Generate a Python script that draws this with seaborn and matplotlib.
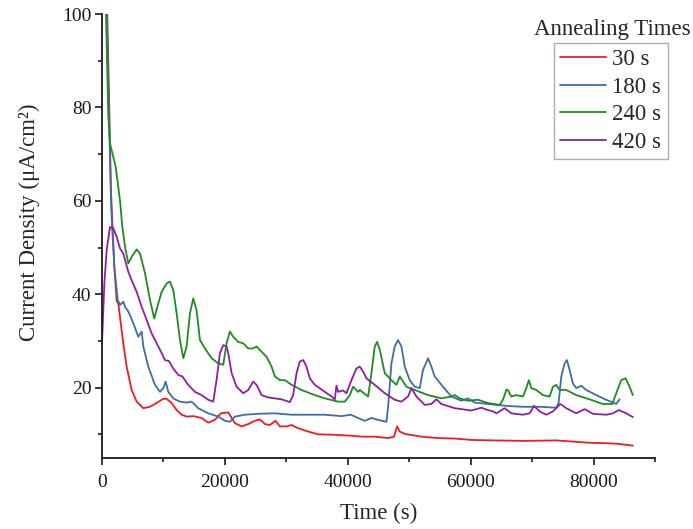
import numpy as np
import pandas as pd
import matplotlib
matplotlib.use("Agg")
import matplotlib.pyplot as plt
import seaborn as sns
from matplotlib.ticker import MultipleLocator
from matplotlib.lines import Line2D

# ---------------- data ----------------
series_names = ["30 s", "180 s", "240 s", "420 s"]
series_colors = ["#f01c1c", "#3e6da6", "#1e8c1e", "#8e1e9e"]

t_30 = [700, 860, 1460, 2000, 2390, 2650, 3460, 4010, 4820, 5640, 6710, 7800, 8610, 9960,
        10510, 11320, 12140, 12950, 13760, 14840, 16200, 17280, 18360, 19340, 20530, 21610,
        22700, 23780, 24860, 25680, 26490, 27300, 28220, 28930, 30010, 30830, 31900, 33530,
        35150, 37860, 40570, 42470, 44360, 46530, 47500, 47990, 48430, 49240, 51950, 54650,
        57360, 60070, 63590, 68470, 73890, 79300, 82010, 83640, 86340]
j_30 = [110, 100, 62, 46, 38.5, 38, 29.5, 24.5, 19.5, 17, 15.6, 15.9, 16.5, 17.6,
        17.6, 16.7, 15.2, 14.2, 13.8, 13.9, 13.5, 12.5, 13.1, 14.5, 14.7, 12.4,
        11.7, 12.2, 12.9, 13.2, 12.2, 12.0, 12.9, 11.7, 11.7, 12.0, 11.3, 10.6,
        10.0, 9.9, 9.7, 9.5, 9.5, 9.2, 9.5, 11.7, 10.6, 10.1, 9.5, 9.2,
        9.1, 8.8, 8.7, 8.6, 8.7, 8.2, 8.1, 8.0, 7.6]

t_180 = [600, 760, 1460, 1570, 2000, 2550, 2930, 3470, 3740, 4280, 5090, 5900, 6450, 6720,
         7530, 8610, 9430, 9970, 10350, 10780, 11590, 12680, 13760, 14570, 15650, 17280,
         18900, 19990, 20800, 21610, 23240, 25400, 28110, 30830, 33530, 36240, 38950,
         40460, 41650, 42740, 43820, 44900, 46260, 46530, 47070, 47610, 48150, 48700,
         49240, 50050, 50860, 51680, 52210, 53030, 53570, 54110, 55200, 56820, 58450,
         59530, 60610, 62770, 65760, 68460, 71180, 73890, 74260, 74700, 75240, 75610,
         76050, 76590, 77130, 77950, 78760, 80390, 82010, 83640, 84180]
j_180 = [110, 100, 60, 56.6, 45.9, 38.8, 37.7, 38.4, 37.3, 36.3, 33.8, 30.9, 32.0, 28.8,
         24.5, 20.6, 19.1, 19.9, 21.3, 19.1, 17.7, 17.0, 16.8, 17.0, 15.6, 14.5,
         13.8, 12.9, 12.7, 13.8, 14.2, 14.4, 14.5, 14.2, 14.2, 14.2, 13.9,
         14.2, 13.5, 12.9, 13.5, 13.1, 12.7, 15.9, 25.2, 28.8, 30.2, 28.8,
         24.5, 21.6, 20.2, 19.9, 23.8, 26.3, 24.5, 22.4, 20.6, 18.1, 17.2,
         17.7, 16.8, 16.5, 16.1, 15.9, 15.9, 15.7, 16.7, 22.4, 25.2, 25.9,
         23.8, 20.9, 19.9, 20.4, 19.5, 18.4, 17.4, 16.5, 17.5]

t_240 = [500, 650, 1030, 1300, 2220, 2930, 3310, 3740, 4280, 4820, 5640, 6180, 6990, 7800,
         8500, 9150, 9700, 10510, 11050, 11590, 12140, 12680, 13220, 13760, 14300, 14840,
         15380, 15930, 16740, 17820, 18900, 19720, 20260, 20800, 21340, 22150, 22970,
         23780, 24590, 25130, 25950, 26760, 27580, 28110, 28930, 29740, 30830, 32450,
         34610, 36240, 38400, 39490, 40300, 40840, 41650, 41930, 43280, 43820, 44360,
         44740, 45180, 45990, 47070, 47880, 48430, 48970, 49510, 50860, 53030, 55200,
         56820, 57360, 58180, 59530, 61150, 62770, 64680, 65210, 65760, 66020, 66570,
         67380, 68460, 68900, 69430, 69830, 70640, 71710, 72800, 73340, 73890, 74420,
         75510, 77130, 79300, 81460, 82990, 83640, 84450, 85150, 85800, 86340]
j_240 = [110, 100, 78, 72.3, 67.3, 60, 54.4, 50.2, 46.6, 48, 49.6, 48.7, 44.5, 38.8,
         34.8, 38, 40.5, 42.3, 42.7, 40.9, 35.9, 30.2, 26.3, 28.8, 35.9, 39.1,
         36.6, 30.2, 28.4, 26.3, 25.2, 24.9, 29.5, 32.0, 30.9, 29.8, 29.5,
         28.4, 28.4, 28.8, 27.7, 26.6, 24.5, 22.4, 21.6, 21.6, 20.6, 19.5,
         18.4, 17.7, 17.0, 17.0, 18.4, 20.2, 19.1, 19.5, 18.1, 23.1, 28.8,
         29.8, 28.1, 23.1, 21.6, 20.6, 22.4, 21.3, 20.2, 19.5, 18.4, 17.7,
         18.1, 18.4, 17.7, 17.2, 17.4, 16.7, 16.3, 17.4, 19.5, 19.5, 18.1,
         18.4, 18.1, 19.5, 21.6, 19.9, 19.5, 18.4, 18.1, 20.2, 20.6, 19.5,
         19.5, 18.4, 17.5, 16.5, 16.5, 18.8, 21.6, 22.0, 20.2, 18.4]

t_420 = [0, 60, 380, 760, 1300, 1840, 2390, 2930, 3470, 4280, 4820, 5640, 6450, 7260, 8080,
         8890, 9700, 10240, 10890, 11590, 12410, 13060, 14030, 15110, 16200, 17280, 18090,
         18630, 19180, 19720, 20260, 20530, 21080, 21890, 22970, 23780, 24590, 25130,
         25950, 27030, 28110, 29200, 30550, 31090, 31640, 32180, 32720, 33260, 33800,
         34610, 36240, 37320, 37860, 38130, 38400, 39210, 39760, 40570, 41380, 41930,
         42470, 43010, 44360, 45990, 47610, 48700, 49780, 50330, 51140, 52490, 53570,
         54380, 55200, 57360, 60070, 61700, 62770, 63590, 64140, 65490, 66570, 68460,
         69550, 70260, 71180, 72260, 73340, 74540, 75510, 77130, 78490, 79840, 82010,
         83100, 84070, 85260, 86340]
j_420 = [29.8, 31.6, 42.3, 49.5, 54.4, 54.1, 52.3, 49.8, 48.7, 44.8, 43.0, 40.5, 37.3, 34.5, 31.6,
         29.5, 27.4, 25.9, 25.7, 24.1, 22.7, 22.4, 20.6, 19.1, 18.4, 17.4, 17.0,
         21.6, 27.4, 29.1, 28.8, 27.4, 23.1, 20.2, 18.8, 19.5, 21.3, 20.6,
         18.4, 17.9, 17.7, 17.5, 16.9, 18.4, 23.1, 25.6, 25.9, 24.5, 22.0,
         20.6, 19.1, 18.1, 17.5, 20.4, 19.1, 19.4, 18.8, 21.6, 24.1, 24.5,
         23.4, 22.0, 20.6, 18.8, 17.4, 17.0, 18.1, 19.9, 18.1, 16.3, 16.5,
         17.5, 16.5, 15.6, 15.1, 15.7, 15.2, 14.9, 14.5, 15.6, 14.5, 14.2,
         14.5, 16.1, 14.9, 14.2, 14.9, 16.5, 15.6, 14.5, 15.4, 14.4, 14.2,
         14.5, 15.2, 14.5, 13.7]

x_ticks = [0, 20000, 40000, 60000, 80000]
y_ticks = [20, 40, 60, 80, 100]

# ---------------- build long-form table ----------------
frames = []
for name, t, j in zip(series_names, [t_30, t_180, t_240, t_420], [j_30, j_180, j_240, j_420]):
    frames.append(pd.DataFrame({"Time": t, "J": j, "Annealing": name}))
df = pd.concat(frames, ignore_index=True)

# ---------------- styling ----------------
sns.set_theme(style="ticks")
plt.rcParams["font.family"] = ["Liberation Serif", "DejaVu Serif"]
plt.rcParams["axes.linewidth"] = 1.3

fig = plt.figure(figsize=(6.93, 5.29), dpi=100)
ax = fig.add_axes([0.1472, 0.1348, 0.7985, 0.8387])

sns.lineplot(data=df, x="Time", y="J", hue="Annealing", hue_order=series_names,
             palette=series_colors, estimator=None, sort=False, linewidth=1.3,
             ax=ax, legend=False)

ax.set_xlim(0, 90000)
ax.set_ylim(5, 100)
ax.set_xticks(x_ticks)
ax.set_yticks(y_ticks)
ax.xaxis.set_minor_locator(MultipleLocator(10000))
ax.yaxis.set_minor_locator(MultipleLocator(10))
ax.tick_params(which="major", direction="out", length=5, width=1.2, labelsize=14,
               colors="#1a1a1a")
ax.tick_params(axis="y", which="major", pad=2.5)
ax.tick_params(axis="x", which="major", pad=7)
ax.tick_params(which="minor", direction="out", length=3, width=1.2, colors="#1a1a1a")
for s in ["top", "right"]:
    ax.spines[s].set_visible(False)
for s in ["left", "bottom"]:
    ax.spines[s].set_color("#1a1a1a")

ax.set_xlabel("Time (s)", fontsize=16.5, labelpad=8)
ax.set_ylabel("Current Density (μA/cm²)", fontsize=16.5)
ax.yaxis.set_label_coords(-0.112, 0.53)

handles = [Line2D([0], [0], color=c, lw=1.3) for c in series_colors]
leg = fig.legend(handles, series_names, loc="upper left",
                 bbox_to_anchor=(554 / 693, 1 - 43 / 529), bbox_transform=fig.transFigure,
                 fontsize=16.5, frameon=True, fancybox=False, handlelength=2.0,
                 handletextpad=0.26, labelspacing=0.28, borderpad=0.28, borderaxespad=0)
leg.get_frame().set_edgecolor("#999999")
leg.get_frame().set_linewidth(1.0)
fig.text(612 / 693, 1 - 30 / 529, "Annealing Times", ha="center", va="center", fontsize=16.5)

fig.savefig("out.png", dpi=100)
